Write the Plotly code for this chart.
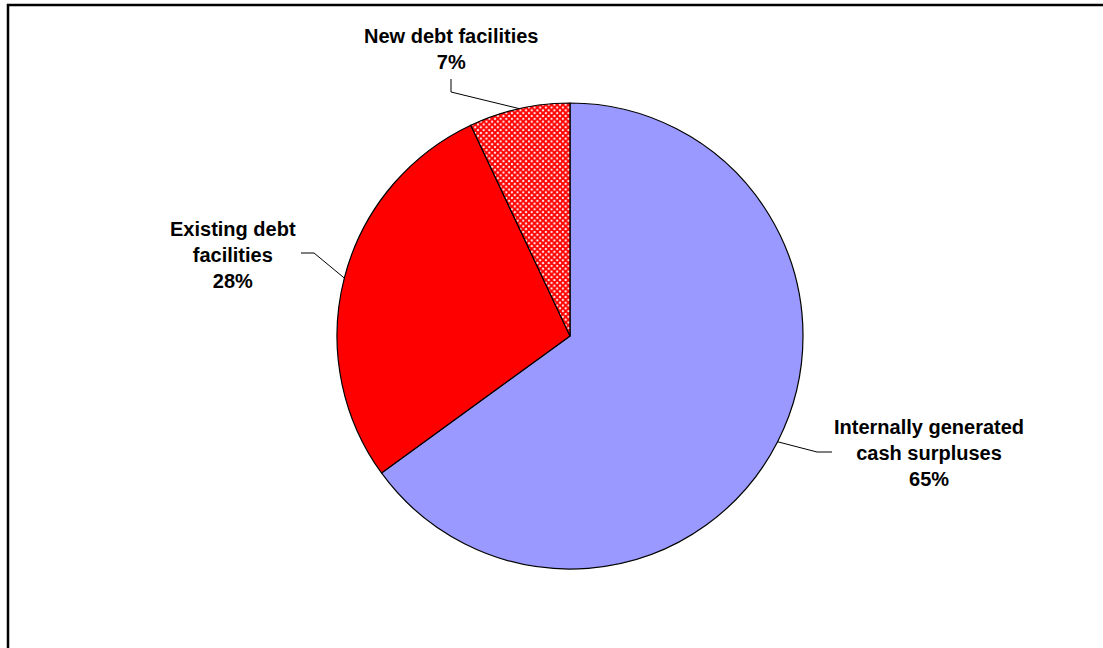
import plotly.graph_objects as go
import math

# ---- data ----
categories = ["Internally generated<br>cash surpluses", "Existing debt<br>facilities", "New debt facilities"]
values = [65, 28, 7]
pct_labels = ["65%", "28%", "7%"]
colors = ["#9999FF", "#FF0000", "#FFFFFF"]

W, H = 1103, 648
CX, CY, R = 570, 336, 233  # pie centre / radius in pixels

def px(x):
    return x / W

def py(y):
    return 1 - y / H

fig = go.Figure()
fig.add_trace(go.Pie(
    labels=categories,
    values=values,
    sort=False,
    direction="clockwise",
    rotation=0,
    textinfo="none",
    hoverinfo="label+percent",
    marker=dict(
        colors=colors,
        line=dict(color="black", width=1.2),
        pattern=dict(
            shape=["", "", "x"],
            fgcolor=["#9999FF", "#FF0000", "#FF0000"],
            bgcolor=["#9999FF", "#FF0000", "#FFFFFF"],
            size=4,
            solidity=0.75,
        ),
    ),
    domain=dict(x=[px(CX - R), px(CX + R)], y=[py(CY + R), py(CY - R)]),
    showlegend=False,
))

# label placement (pixel offsets for text boxes and leader elbows)
label_pos = [(929, 453), (233, 255), (451, 49)]
elbows = [[(817, 452), (832, 452)], [(314, 253), (301, 253)], [(451, 92), (451, 79)]]

total = sum(values)
cum = 0
shapes = []
annotations = []
for i, v in enumerate(values):
    mid = (cum + v / 2) / total * 2 * math.pi
    cum += v
    ex = CX + R * math.sin(mid)
    ey = CY - R * math.cos(mid)
    pts = [(ex, ey)] + elbows[i]
    path = "M " + " L ".join(f"{px(x)},{py(y)}" for x, y in pts)
    shapes.append(dict(type="path", path=path, xref="paper", yref="paper",
                       line=dict(color="black", width=1)))
    lx, ly = label_pos[i]
    annotations.append(dict(
        x=px(lx), y=py(ly), xref="paper", yref="paper",
        text=f"<b>{categories[i]}<br>{pct_labels[i]}</b>",
        showarrow=False, align="center", xanchor="center", yanchor="middle",
        font=dict(family="Liberation Sans, Arial", size=20, color="black"),
    ))

# outer frame (left and top edges visible)
shapes.append(dict(type="rect", xref="paper", yref="paper",
                   x0=px(8), x1=1.05, y0=-0.05, y1=py(5),
                   line=dict(color="black", width=2.5)))

fig.update_layout(
    width=W, height=H,
    margin=dict(l=0, r=0, t=0, b=0),
    paper_bgcolor="white",
    plot_bgcolor="white",
    shapes=shapes,
    annotations=annotations,
)

fig.write_html("out.html",
               config={"displayModeBar": False},
               post_script="document.body.style.margin='0';document.body.style.overflow='hidden';")
